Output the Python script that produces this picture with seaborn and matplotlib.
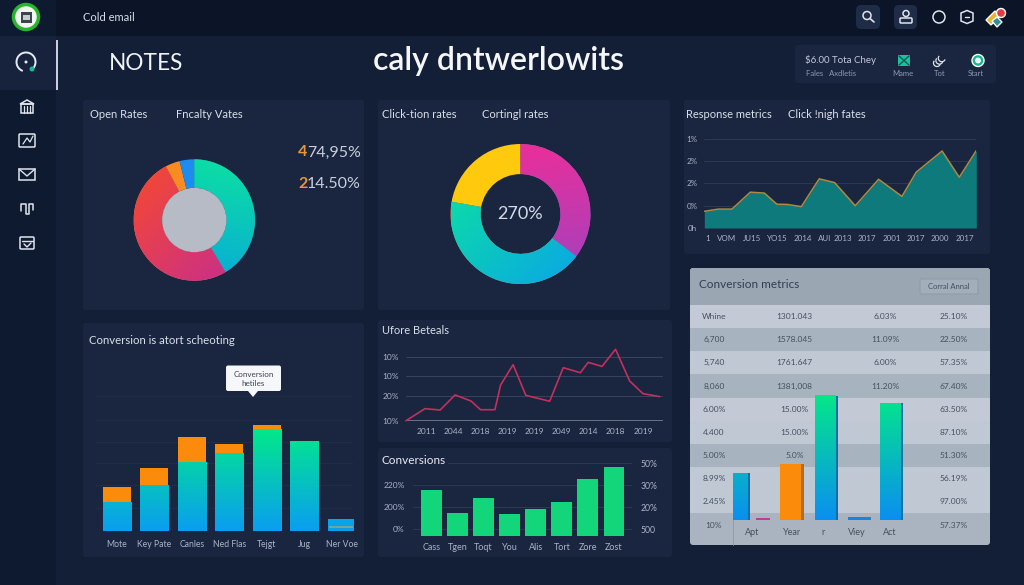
import numpy as np
import matplotlib
matplotlib.use('Agg')
import matplotlib.pyplot as plt
from matplotlib.colors import LinearSegmentedColormap
from matplotlib.patches import FancyBboxPatch, Rectangle, Circle, Polygon
import seaborn as sns

W, H = 1024, 585

# donuts
open_vals = [41.4, 50.8, 3.9, 3.9]
click_vals = [35.3, 42.5, 22.2]

# response metrics area
area_x = [0, 0.63, 1.22, 2.03, 2.65, 3.2, 3.65, 4.28, 5.07, 5.75, 6.66, 7.69, 8.72, 9.35, 10.49, 11.25, 12]
area_y = [0.75, 0.85, 0.85, 1.61, 1.57, 1.07, 1.06, 0.96, 2.21, 2.04, 1.0, 2.19, 1.42, 2.51, 3.46, 2.28, 3.48]
area_ticks = [0.15, 1.0, 2.12, 3.24, 4.34, 5.31, 6.12, 7.18, 8.26, 9.32, 10.41, 11.49]
area_xlabels = ['1', 'VOM', 'JU15', 'YO15', '2014', 'AUI', '2013', '2017', '2001', '2017', '2000', '2017']
area_ylabels = ['0h', '0%', '2%', '2%', '1%']

# stacked bars
stack_cats = ['Mote', 'Key Pate', 'Canles', 'Ned Flas', 'Tejgt', 'Jug', 'Ner Voe']
stack_low = [86, 135, 206, 232, 304, 268, 35]
stack_top = [46, 53, 75, 27, 12, 0, 0]
stack_band_hi = [0, 0, 0, 0, 0, 0, 14]
stack_band_lo = [0, 0, 0, 0, 0, 0, 7]

# red line
line_x = [-0.74, -0.04, 0.52, 1.07, 1.66, 2.01, 2.54, 2.75, 3.21, 3.68, 4.56, 5.06, 5.69, 5.98, 6.49, 6.99, 7.51, 8.0, 8.61]
line_y = [0, 5.7, 5.05, 12.2, 9.3, 5.2, 5.2, 16.9, 26.5, 12, 9.2, 25.1, 22.7, 27.6, 25.7, 33.8, 18.8, 12.8, 11.4]
line_xlabels = ['2011', '2044', '2018', '2019', '2019', '2049', '2014', '2018', '2019']
line_yticks = [0, 11.5, 21, 30]
line_ylabels = ['10%', '20%', '10%', '10%']

# conversions bars
conv_cats = ['Cass', 'Tgen', 'Toqt', 'You', 'Alis', 'Tort', 'Zore', 'Zost']
conv_vals = [138, 68, 112, 64, 79, 100, 171, 207]
conv_yticks = [19, 85, 151, 217]
conv_left = ['0%', '200%', '220%', '']
conv_right = ['500', '20%', '30%', '50%']

# table
table_rows = [
    ['Whine', '1301.043', '6.03%', '25.10%'],
    ['6,700', '1578.045', '11.09%', '22.50%'],
    ['5,740', '1761.647', '6.00%', '57.35%'],
    ['8,060', '1381,008', '11.20%', '67.40%'],
    ['6.00%', '15.00%', '', '63.50%'],
    ['4.400', '15.00%', '', '87.10%'],
    ['5.00%', '5.0%', '', '51.30%'],
    ['8.99%', '', '', '56.19%'],
    ['2.45%', '', '', '97.00%'],
]
table_foot = ['10%', '', '', '57.37%']
row_shade = [0, 1, 0.1, 1, 0, 0.1, 1, 0.1, 0.1]
tbar_slots = [0, 0.72, 1.68, 2.84, 3.94, 5]
tbar_vals = [140, 5, 167, 373, 8, 350]
tbar_width = [0.5, 0.4, 0.7, 0.69, 0.67, 0.69]
tbar_ticks = [0.39, 1.72, 2.78, 3.89, 5]
tbar_labels = ['Apt', 'Year', 'r', 'Viey', 'Act']

PAGE = '#131e37'
PANEL = '#1a2540'
GRID = '#2b3953'
TICK = '#a9b4c7'
TXT = '#d9dfe9'
FONT = 'Lato'

sns.set_theme(style='dark', rc={'axes.edgecolor': 'none', 'xtick.bottom': False, 'ytick.left': False})
plt.rcParams['font.family'] = [FONT, 'DejaVu Sans']

fig = plt.figure(figsize=(W / 100, H / 100), dpi=100, facecolor=PAGE)


def px_axes(x0, y0, x1, y1, z=1):
    ax = fig.add_axes([x0 / W, 1 - y1 / H, (x1 - x0) / W, (y1 - y0) / H], zorder=z)
    ax.set_facecolor('none')
    return ax


def clean(ax, size=6):
    sns.despine(ax=ax, left=True, bottom=True)
    ax.set(xlabel='', ylabel='')
    ax.tick_params(axis='both', length=0, labelsize=size, labelcolor=TICK, pad=3)


def layer(ax, x, y, color, z, **kw):
    n = len(ax.patches)
    sns.barplot(x=x, y=y, color=color, saturation=1, errorbar=None, ax=ax, **kw)
    new = ax.patches[n:]
    for p in new:
        p.set_zorder(z)
        p.set_linewidth(0)
    return new


def grad_bars(ax, patches, c0, c1, vmax, z):
    cmap = LinearSegmentedColormap.from_list('g', [c0, c1])
    for p in patches:
        h = p.get_height()
        if h <= 0:
            continue
        g = np.linspace(0, h / vmax, 64).reshape(-1, 1)
        ax.imshow(g, extent=[p.get_x(), p.get_x() + p.get_width(), 0, h], origin='lower',
                  aspect='auto', cmap=cmap, vmin=0, vmax=1, zorder=z)


def donut(cx, cy, r, vals, width, fills):
    ax = px_axes(cx - r * 1.1, cy - r * 1.1, cx + r * 1.1, cy + r * 1.1, z=2)
    wedges, _ = ax.pie(vals, startangle=90, counterclock=False, radius=1,
                       wedgeprops={'width': width, 'linewidth': 0})
    xx, yy = np.meshgrid(np.linspace(-1, 1, 200), np.linspace(-1, 1, 200))
    for w, f in zip(wedges, fills):
        if len(f) == 1:
            w.set_facecolor(f[0])
            continue
        c0, c1, dx, dy = f
        cmap = LinearSegmentedColormap.from_list('d', [c0, c1])
        im = ax.imshow((xx * dx + yy * dy + 1) / 2, extent=[-1, 1, -1, 1], origin='lower',
                       cmap=cmap, vmin=0, vmax=1, zorder=2)
        im.set_clip_path(w)
    ax.set_xlim(-1.1, 1.1)
    ax.set_ylim(-1.1, 1.1)
    return ax


# background canvas, pixel coordinates
bg = fig.add_axes([0, 0, 1, 1], zorder=0)
bg.set_xlim(0, W)
bg.set_ylim(H, 0)
bg.axis('off')


def rect(x0, y0, x1, y1, c, ax=bg, z=1):
    ax.add_patch(Rectangle((x0, y0), x1 - x0, y1 - y0, fc=c, ec='none', zorder=z))


def rbox(x0, y0, x1, y1, c, rad=3, ax=bg, z=1, ec='none'):
    p = FancyBboxPatch((x0 + rad, y0 + rad), x1 - x0 - 2 * rad, y1 - y0 - 2 * rad,
                       boxstyle='round,pad=%d' % rad, fc=c, ec=ec, lw=0.7, zorder=z)
    ax.add_patch(p)
    return p


def label(x, y, s, size=8, c=TXT, ha='left', weight='normal', ax=bg, z=5, **kw):
    ax.text(x, y, s, fontsize=size, color=c, ha=ha, va='center', fontweight=weight, zorder=z, **kw)


rect(0, 0, W, 36, '#0c1428')
rect(0, 0, 56, H, '#0e1a30')
rect(0, 36, 56, 90, '#17233d', z=2)
rect(55.5, 40, 57.5, 90, '#c9d0dc', z=3)

for box in [(83, 100, 364, 310), (378, 100, 670, 310), (684, 100, 990, 254),
            (83, 323, 364, 557), (378, 320, 672, 442), (378, 448, 672, 557),
            (795, 45, 996, 83)]:
    rbox(*box, PANEL)

# header and sidebar icons
bg.add_patch(Circle((26, 17), 12.5, fc='#f2f6f0', ec='#27b52e', lw=2.5, zorder=3))
rect(20.5, 12, 31.5, 22.5, '#3d4650', z=4)
rect(22.5, 14.5, 29.5, 20, '#c8ccd0', z=5)
icon = dict(fc='none', ec='#dfe4ec', lw=1.1, zorder=4)
bg.add_patch(matplotlib.patches.Arc((26, 62), 19, 19, theta1=110, theta2=400, ec='#e6ebf2', lw=1.4, zorder=4))
bg.add_patch(Circle((32, 69), 2.5, fc='#14b8a6', ec='none', zorder=5))
bg.add_patch(Circle((26, 62), 1.5, fc='#e6ebf2', ec='none', zorder=5))
bg.add_patch(Polygon([[20, 104], [27, 100], [34, 104]], **icon))
bg.add_patch(Rectangle((21, 104), 12, 9, **icon))
for xi in (24, 27, 30):
    bg.plot([xi, xi], [106, 113], color='#dfe4ec', lw=0.9, zorder=4)
bg.add_patch(FancyBboxPatch((20, 135), 14, 11, boxstyle='round,pad=1', **icon))
bg.plot([23, 27, 30, 33], [144, 138, 142, 136], color='#dfe4ec', lw=0.9, zorder=4)
bg.add_patch(Rectangle((19, 169), 16, 11, **icon))
bg.plot([19, 27, 35], [169, 176, 169], color='#dfe4ec', lw=1, zorder=4)
bg.plot([21, 21, 26, 26, 29, 29, 33, 33], [211, 204, 204, 214, 214, 204, 204, 210], color='#dfe4ec', lw=1.1, zorder=4)
bg.add_patch(FancyBboxPatch((21, 238), 12, 10, boxstyle='round,pad=1', **icon))
bg.plot([22, 33], [241, 241], color='#dfe4ec', lw=1, zorder=4)
bg.plot([24, 27, 31], [244, 247, 243], color='#dfe4ec', lw=1, zorder=4)

rbox(856, 5, 880, 29, '#1f2c47', rad=5)
rbox(894, 5, 917, 29, '#1f2c47', rad=5)
bg.add_patch(Circle((867, 15.5), 4, **icon))
bg.plot([870, 874], [18.5, 22], color='#dfe4ec', lw=1.2, zorder=4)
bg.add_patch(Circle((906, 13.5), 3, **icon))
bg.add_patch(FancyBboxPatch((901, 19), 10, 3, boxstyle='round,pad=1', **icon))
bg.add_patch(Circle((939, 17), 6, **icon))
bg.add_patch(Polygon([[967, 10.5], [973, 13], [973, 21], [967, 23.5], [961, 21], [961, 13]], **icon))
bg.plot([965, 969], [17, 17], color='#dfe4ec', lw=1, zorder=4)
bg.add_patch(Polygon([[986, 20], [995, 11], [1000, 16], [991, 25]], fc='#e7b52e', zorder=3))
bg.add_patch(Polygon([[992, 21], [997, 17], [1002, 22], [997, 27]], fc='#2f8f9a', zorder=4))
bg.add_patch(Circle((1001, 13), 4.5, fc='#e23b45', zorder=5))

rect(904 - 6, 55, 904 + 6, 66, '#17c3a2', z=3)
bg.plot([899, 909], [56, 65], color='#0e5a50', lw=1, zorder=4)
bg.plot([899, 909], [65, 56], color='#0e5a50', lw=1, zorder=4)
for k in range(3):
    bg.add_patch(matplotlib.patches.Arc((937 + k * 2.4, 63 - k * 2.4), 7, 7, theta1=20, theta2=220, ec='#dfe4ec', lw=0.9, zorder=4))
bg.add_patch(Circle((978, 60.5), 6, fc='#14b890', zorder=3))
bg.add_patch(Circle((978, 60.5), 2.2, fc='#e8f5f0', zorder=4))

label(83, 17.5, 'Cold email', 8)
label(109, 63, 'NOTES', 16.3, '#f1f4f8')
label(373, 61, 'caly dntwerlowits', 23, '#f5f7fa', weight='semibold')
label(805, 60, '$6.00 Tota Chey', 7, '#c2cad7')
label(806, 73.5, 'Fales   Axdletis', 5.5, '#8f9bb0')
label(903, 74, 'Mame', 5.5, '#8f9bb0', ha='center')
label(940, 74, 'Tot', 5.5, '#8f9bb0', ha='center')
label(976, 74, 'Start', 5.5, '#8f9bb0', ha='center')

label(90, 115, 'Open Rates', 8)
label(176, 115, 'Fncalty Vates', 8)
label(382, 115, 'Click-tion rates', 8)
label(482, 115, 'Cortingl rates', 8)
label(686, 115, 'Response metrics', 8)
label(788, 115, 'Click !nigh fates', 8)
label(89, 340, 'Conversion is atort scheoting', 8.2)
label(382, 331, 'Ufore Beteals', 8)
label(298, 152.5, '4', 11.5, '#e8963a', weight='bold')
label(307, 152.5, '74,95%', 11.5, '#c8cfdb')
label(298, 183.5, '2', 11.5, '#e8963a', weight='bold')
label(307, 183.5, '14.50%', 11.5, '#c8cfdb')

# donuts
ax = donut(194.3, 220, 60.7, open_vals, 0.47, [
    ('#08a6dc', '#0ce2a0', 0.15, 0.85),
    ('#c42c94', '#f84a2c', -0.5, 0.5),
    ('#f98b22',),
    ('#1c8cf0',),
])
ax.add_patch(Circle((0, 0), 0.53, fc='#b6bbc6', ec='none', zorder=4))

ax = donut(520.5, 214, 70, click_vals, 0.43, [
    ('#a042c0', '#ee2e98', -0.1, 0.9),
    ('#0aa8e4', '#0ce2a0', -0.6, 0.6),
    ('#ffc90e',),
])
ax.text(0, 0, '270%', fontsize=13, color='#d5dbe5', ha='center', va='center', zorder=5)

# area chart
ax = px_axes(704.3, 139, 976.3, 228)
ax.fill_between(area_x, area_y, color='#0e7a7c', linewidth=0, zorder=2)
sns.lineplot(x=area_x, y=area_y, color='#ae8a40', lw=1.1, errorbar=None, sort=False, ax=ax, zorder=3)
ax.set_xlim(0, 12)
ax.set_ylim(0, 4)
ax.set_xticks(area_ticks, area_xlabels)
ax.set_yticks(range(5), area_ylabels)
ax.yaxis.grid(True, color=GRID, lw=0.7)
ax.set_axisbelow(True)
clean(ax, 5.8)
ax.tick_params(axis='x', pad=5)
ax.tick_params(axis='y', pad=5)

# stacked bars
ax = px_axes(95, 396, 353, 530.7)
totals = [a + b for a, b in zip(stack_low, stack_top)]
layer(ax, stack_cats, totals, '#fb8b0a', 2, width=0.75)
low = layer(ax, stack_cats, stack_low, '#0ac0b8', 2.5, width=0.75)
grad_bars(ax, low, '#0a9ef0', '#02e88a', 304, 3)
layer(ax, stack_cats, stack_band_hi, '#6fa89a', 4, width=0.66)
layer(ax, stack_cats, stack_band_lo, '#0a9ee8', 5, width=0.66)
ax.set_xlim(-0.58, 6.3)
ax.set_ylim(0, 404)
ax.set_yticks([0, 67, 137, 202, 267, 332, 404], [''] * 7)
ax.yaxis.grid(True, color='#232f49', lw=0.6)
ax.set_axisbelow(True)
clean(ax, 6.2)
ax.tick_params(axis='x', pad=7)

# red line chart
ax = px_axes(406, 357.3, 663, 420.7)
sns.lineplot(x=line_x, y=line_y, color='#c4305c', lw=1.2, errorbar=None, sort=False, ax=ax, zorder=3, clip_on=False)
ax.set_xlim(-0.74, 8.74)
ax.set_ylim(0, 30)
ax.set_xticks(range(9), line_xlabels)
ax.set_yticks(line_yticks, line_ylabels)
ax.yaxis.grid(True, color='#36445f', lw=0.7)
ax.set_axisbelow(True)
ax.axhline(0, color='#7d879b', lw=1.1, zorder=2)
clean(ax, 6)
ax.tick_params(axis='x', pad=5)
ax.tick_params(axis='y', pad=5)

# conversions
ax = px_axes(413, 463.3, 632, 535.7)
layer(ax, conv_cats, conv_vals, '#13d67a', 3, width=0.8)
ax.set_xlim(-0.7, 7.69)
ax.set_ylim(0, 217)
ax.set_yticks(conv_yticks, conv_left)
ax.yaxis.grid(True, color=GRID, lw=0.7)
ax.set_axisbelow(True)
ax.axhline(0, color='#34425c', lw=0.8, zorder=2)
clean(ax, 6)
ax.tick_params(axis='x', labelsize=6.5, pad=5)
ax.tick_params(axis='y', pad=6)
axr = ax.twinx()
axr.set_ylim(0, 217)
axr.set_yticks(conv_yticks, conv_right)
clean(axr, 6.2)
axr.tick_params(axis='y', pad=6)
axr.grid(False)

# table panel
tp = rbox(690, 268, 990, 545, '#a9b4c0')
hd = Rectangle((690, 268), 300, 37, fc='#9aa6b2', ec='none', zorder=2)
bg.add_patch(hd)
hd.set_clip_path(tp)
label(699, 284, 'Conversion metrics', 8.5, '#333d4e')
rbox(920, 279, 978, 294, '#a3aebb', rad=1, ec='#8f9aa8', z=3)
label(949, 286.5, 'Corral Annal', 5.5, '#465062', ha='center')

ax = px_axes(690, 305, 990, 513.3)
cmap = LinearSegmentedColormap.from_list('rows', ['#c3cad6', '#a8b3c0'])
sns.heatmap(np.array(row_shade).reshape(-1, 1), cmap=cmap, vmin=0, vmax=1, cbar=False,
            xticklabels=False, yticklabels=False, ax=ax)
col_x = [0.08, 0.348, 0.652, 0.879]
for i, row in enumerate(table_rows):
    for cx, s in zip(col_x, row):
        ax.text(cx, i + 0.5, s, fontsize=6, color='#46505f', ha='center', va='center')
for cx, s in zip(col_x, table_foot):
    bg.text(690 + cx * 300, 526, s, fontsize=6, color='#46505f', ha='center', va='center', zorder=5)
bg.plot([733.3, 733.3], [305, 545], color='#8d98a6', lw=0.6, zorder=4)
ax = px_axes(690, 390, 990, 520, z=3)
slots = np.array(tbar_slots)
side = layer(ax, slots + 0.09, tbar_vals, '#0b6fa8', 2, native_scale=True, width=0.9)
front = layer(ax, slots, tbar_vals, '#0a9ef0', 3, native_scale=True, width=0.9)
for group, off in ((side, 0.09), (front, 0)):
    for p, s, w in zip(group, tbar_slots, tbar_width):
        p.set_x(s + off - w / 2)
        p.set_width(w)
flat = {1: '#c23a9a', 2: '#fb8b0a', 4: '#1c84d8'}
grad_bars(ax, [p for i, p in enumerate(front) if i not in flat], '#0b8ff0', '#04e68a', 373, 3.5)
for i, c in flat.items():
    front[i].set_facecolor(c)
    side[i].set_facecolor('#b86a10' if i == 2 else c)
ax.set_xlim(-1.667, 8.333)
ax.set_ylim(0, 390)
ax.set_xticks(tbar_ticks, tbar_labels)
ax.set_yticks([])
clean(ax, 6.5)
ax.tick_params(axis='x', labelcolor='#46505f', pad=6)

# tooltip and the title that cuts the top gridline sit above the charts
ov = fig.add_axes([0, 0, 1, 1], zorder=6)
ov.set_xlim(0, W)
ov.set_ylim(H, 0)
ov.axis('off')
label(381, 460, 'Conversions', 8.5, '#e8ecf2', ax=ov,
      bbox=dict(fc=PANEL, ec='none', pad=2))
rbox(226, 365.5, 281, 391, '#f5f7fa', rad=2, ax=ov)
ov.add_patch(Polygon([[248, 391], [258, 391], [253, 397]], fc='#f5f7fa', ec='none', zorder=2))
label(253.5, 374.5, 'Conversion', 5.8, '#3a4454', ha='center', ax=ov)
label(253.5, 384, 'hetiles', 5.8, '#3a4454', ha='center', ax=ov)

fig.savefig('out.png', dpi=100, facecolor=fig.get_facecolor())
